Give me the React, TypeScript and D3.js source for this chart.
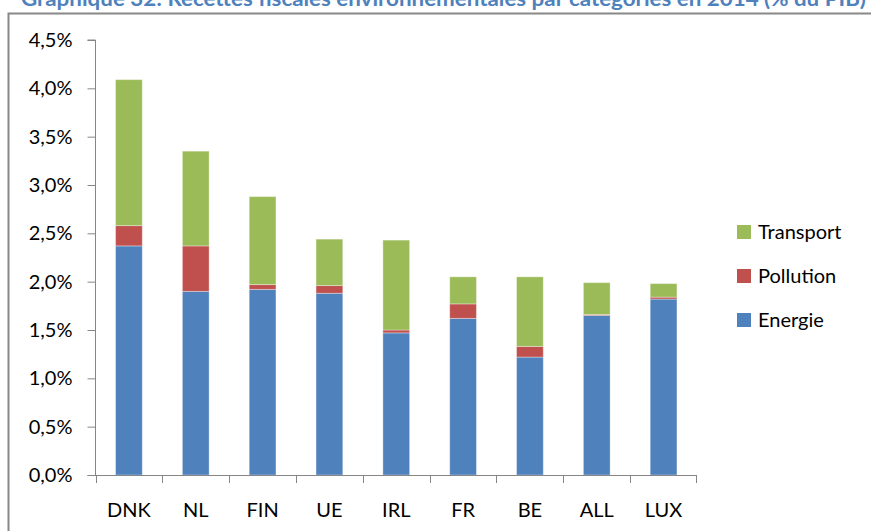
import * as d3 from "d3";
import { useEffect, useRef } from "react";

const categories = ["DNK", "NL", "FIN", "UE", "IRL", "FR", "BE", "ALL", "LUX"];
const energie = [2.37, 1.90, 1.92, 1.88, 1.47, 1.62, 1.22, 1.65, 1.82];
const pollution = [0.21, 0.47, 0.05, 0.08, 0.03, 0.15, 0.11, 0.01, 0.02];
const transport = [1.51, 0.98, 0.91, 0.48, 0.93, 0.28, 0.72, 0.33, 0.14];
const seriesNames = ["Energie", "Pollution", "Transport"];
const seriesColors = ["#4F81BD", "#C0504D", "#9BBB59"];
const yTicks = [0, 0.5, 1, 1.5, 2, 2.5, 3, 3.5, 4, 4.5];
const title = "Graphique 32: Recettes fiscales environnementales par catégories en 2014 (% du PIB)";

const FONT = "Lato, 'Open Sans', sans-serif";

function App() {
    const width = 871;
    const height = 531;
    const left = 95.5;
    const right = 697;
    const top = 40;
    const bottom = 475;

    const gy = useRef<SVGGElement>(null);

    const rows = categories.map((c, i) => ({
        cat: c,
        Energie: energie[i],
        Pollution: pollution[i],
        Transport: transport[i]
    }));
    const stacked = d3.stack<any>().keys(seriesNames)(rows);

    const x = d3.scaleBand()
        .domain(categories)
        .range([left, right])
        .paddingInner(0.6)
        .paddingOuter(0.3);
    const step = x.step();

    const y = d3.scaleLinear().domain([0, 4.5]).range([bottom, top]);

    const fr = d3.formatLocale({ decimal: ",", thousands: " ", grouping: [3], currency: ["", " €"] });
    const fmt = fr.format(".1f");

    useEffect(() => {
        const g = d3.select(gy.current);
        g.call(d3.axisLeft(y).tickValues(yTicks).tickSize(8).tickPadding(15).tickFormat(d => fmt(d as number) + "%"));
        g.select(".domain").attr("stroke", "#868686").attr("d", `M-8,${y(4.5)}H0V${y(0)}`);
        g.selectAll(".tick line").attr("stroke", "#868686");
        g.selectAll(".tick text")
            .attr("fill", "#000")
            .style("font-family", FONT)
            .style("font-size", "20px");
    }, [y]);

    const legendOrder = [2, 1, 0];

    return (
        <svg width={width} height={height} style={{ position: "absolute", left: 0, top: 0, background: "#fff" }}>
            <text
                x={21}
                y={6}
                fill="#4F81BD"
                fontFamily={FONT}
                fontWeight="bold"
                fontSize={20}
                textLength={845}
                lengthAdjust="spacingAndGlyphs"
            >
                {title}
            </text>
            {/* cadre */}
            <path d={`M8.5,${height}V13.5H${width}`} fill="none" stroke="#888" strokeWidth={2} />

            {/* barres */}
            {stacked.map((s, si) => (
                <g key={s.key} fill={seriesColors[si]} stroke="rgba(255,255,255,0.35)" strokeWidth={1}>
                    {s.map((d, i) => (
                        <rect
                            key={i}
                            x={x(categories[i])}
                            y={y(d[1])}
                            width={x.bandwidth()}
                            height={Math.max(0, y(d[0]) - y(d[1]))}
                        />
                    ))}
                </g>
            ))}

            {/* axe x */}
            <g stroke="#868686" strokeWidth={1}>
                <line x1={left - 8} x2={right} y1={bottom + 0.5} y2={bottom + 0.5} />
                {categories.map((c, i) => (
                    <line key={c} x1={Math.round((x(c) as number) - step * 0.3) + 0.5} x2={Math.round((x(c) as number) - step * 0.3) + 0.5} y1={bottom} y2={bottom + 8} />
                ))}
                <line x1={right - 0.5} x2={right - 0.5} y1={bottom} y2={bottom + 8} />
            </g>
            {categories.map(c => (
                <text
                    key={c}
                    x={(x(c) as number) + x.bandwidth() / 2}
                    y={517}
                    textAnchor="middle"
                    fontFamily={FONT}
                    fontSize={20}
                    fill="#000"
                >
                    {c}
                </text>
            ))}

            {/* axe y */}
            <g ref={gy} transform={`translate(${left},0)`} />

            {/* légende */}
            {legendOrder.map((si, k) => (
                <g key={si} transform={`translate(737,${232 + k * 44})`}>
                    <rect x={0} y={-7} width={14} height={14} fill={seriesColors[si]} />
                    <text x={21} y={7} fontFamily={FONT} fontSize={20} fill="#000">{seriesNames[si]}</text>
                </g>
            ))}
        </svg>
    );
}

export default App;
